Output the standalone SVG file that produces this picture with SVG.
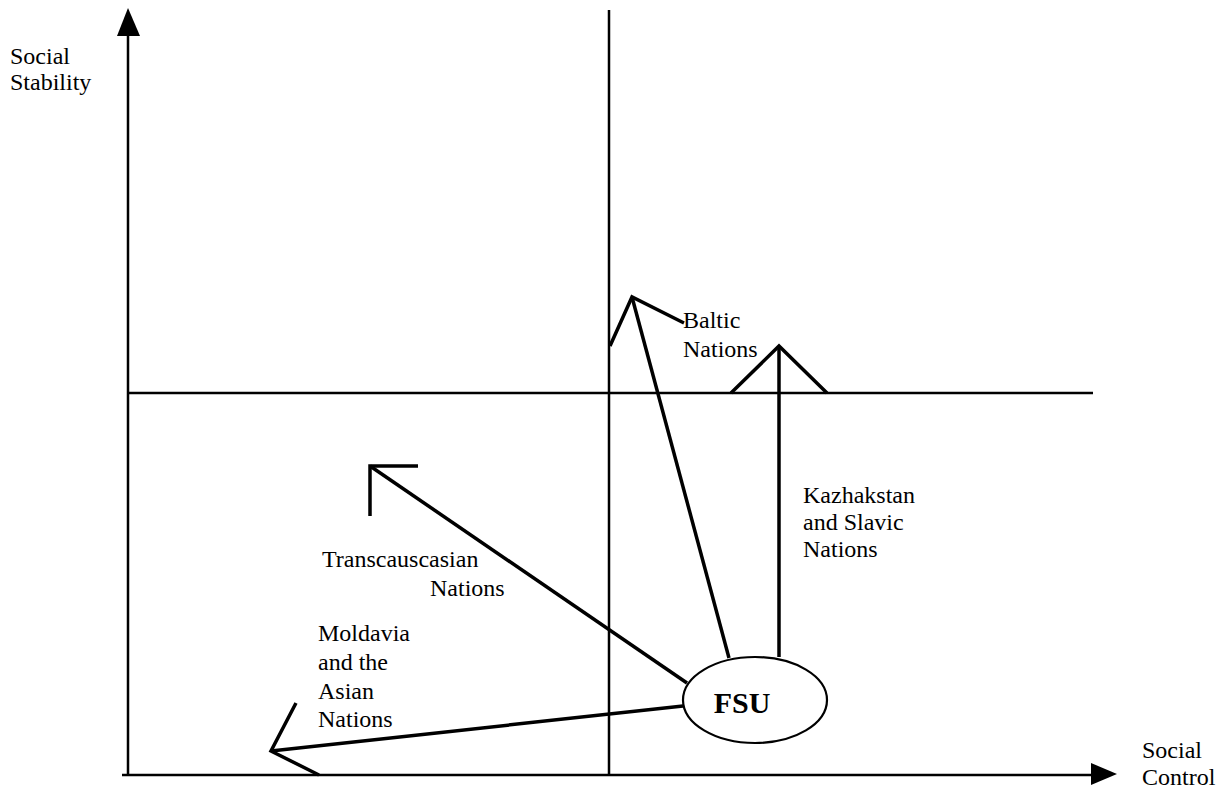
<svg xmlns="http://www.w3.org/2000/svg" width="1220" height="792" viewBox="0 0 1220 792">
  <style>
    .axis { stroke: #000; stroke-width: 2.5; fill: none; }
    .path { stroke: #000; stroke-width: 3.5; fill: none; stroke-linejoin: miter; }
    .lbl { font-family: "Liberation Serif", "Times New Roman", serif; font-size: 24px; fill: #000; }
    .head { fill: #000; }
  </style>
  <rect width="1220" height="792" fill="#fff"/>

  <!-- axes and quadrant dividers -->
  <g id="axes">
    <line class="axis" x1="128" y1="776" x2="128" y2="34"/>
    <polygon class="head" points="128,8 117,36 140,36"/>
    <line class="axis" x1="122" y1="775" x2="1093" y2="775"/>
    <polygon class="head" points="1117,774 1091,763 1091,785"/>
    <line class="axis" x1="609" y1="10" x2="609" y2="776"/>
    <line class="axis" x1="128" y1="393" x2="1093" y2="393"/>
  </g>

  <!-- axis titles -->
  <g id="label-stability">
    <text class="lbl" x="10" y="64">Social</text>
    <text class="lbl" x="10" y="90">Stability</text>
  </g>
  <g id="label-control">
    <text class="lbl" x="1142" y="758">Social</text>
    <text class="lbl" x="1142" y="785">Control</text>
  </g>

  <!-- trajectories from the origin state -->
  <g id="connectors">
    <!-- Baltic Nations -->
    <polyline class="path" points="729,658 632,297"/>
    <polyline class="path" points="610,346 632,297 684,323"/>
    <!-- Kazhakstan and Slavic Nations -->
    <line class="path" x1="779" y1="657" x2="779" y2="346"/>
    <polyline class="path" points="731,393 779,346 827,393"/>
    <!-- Transcauscasian Nations -->
    <line class="path" x1="687" y1="683" x2="370" y2="466"/>
    <polyline class="path" points="418,466 370,466 370,516"/>
    <!-- Moldavia and the Asian Nations -->
    <line class="path" x1="683" y1="706" x2="271" y2="751"/>
    <polyline class="path" points="296,703 271,751 319,775"/>
  </g>

  <g id="node-fsu">
    <ellipse cx="755" cy="700" rx="72" ry="43" fill="#fff" stroke="#000" stroke-width="2.2"/>
    <text x="742" y="713" text-anchor="middle" font-family="Liberation Serif, Times New Roman, serif" font-size="30" font-weight="bold">FSU</text>
  </g>

  <g id="label-baltic">
    <text class="lbl" x="683" y="328">Baltic</text>
    <text class="lbl" x="683" y="357">Nations</text>
  </g>
  <g id="label-kazhakstan">
    <text class="lbl" x="803" y="503">Kazhakstan</text>
    <text class="lbl" x="803" y="530">and Slavic</text>
    <text class="lbl" x="803" y="557">Nations</text>
  </g>
  <g id="label-transcaucasian">
    <text class="lbl" x="322" y="567">Transcauscasian</text>
    <text class="lbl" x="430" y="596">Nations</text>
  </g>
  <g id="label-moldavia">
    <text class="lbl" x="318" y="641">Moldavia</text>
    <text class="lbl" x="318" y="670">and the</text>
    <text class="lbl" x="318" y="699">Asian</text>
    <text class="lbl" x="318" y="727">Nations</text>
  </g>
</svg>
